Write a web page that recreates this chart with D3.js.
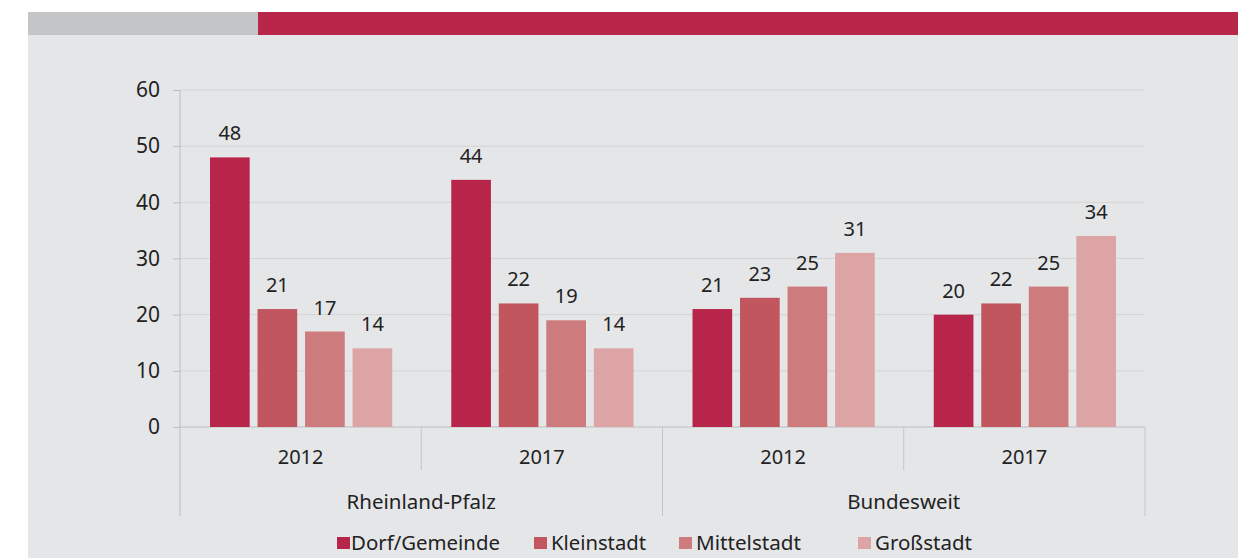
<!DOCTYPE html>
<html>
<head>
<meta charset="utf-8">
<script src="https://cdn.jsdelivr.net/npm/d3@7"></script>
<style>
  body { margin: 0; background: #ffffff; }
  text { font-family: "Noto Sans", "Open Sans", sans-serif; fill: #222; }
</style>
</head>
<body>
<div id="chart"></div>
<script>
// Data
const regions = ["Rheinland-Pfalz", "Bundesweit"];
const years = ["2012", "2017"];
const series = ["Dorf/Gemeinde", "Kleinstadt", "Mittelstadt", "Großstadt"];
const colors = ["#b7264a", "#c1565e", "#cd7b7c", "#dca4a4"];
// values per region/year group, in series order
const rlp2012 = [48, 21, 17, 14];
const rlp2017 = [44, 22, 19, 14];
const bund2012 = [21, 23, 25, 31];
const bund2017 = [20, 22, 25, 34];
const yTicks = [0, 10, 20, 30, 40, 50, 60];

const groups = [
    { region: regions[0], year: years[0], values: rlp2012 },
    { region: regions[0], year: years[1], values: rlp2017 },
    { region: regions[1], year: years[0], values: bund2012 },
    { region: regions[1], year: years[1], values: bund2017 }
];
groups.forEach((g, i) => g.key = i);

const W = 1246, H = 558;
const svg = d3.select("#chart").append("svg")
    .attr("width", W).attr("height", H);

// panel background and top bar
svg.append("rect").attr("x", 28).attr("y", 12).attr("width", 1210).attr("height", H - 12).attr("fill", "#e5e6e8");
svg.append("rect").attr("x", 28).attr("y", 12).attr("width", 230).attr("height", 23).attr("fill", "#c4c5c7");
svg.append("rect").attr("x", 258).attr("y", 12).attr("width", 980).attr("height", 23).attr("fill", "#b8274a");

const plotLeft = 180, plotRight = 1145, plotTop = 90, plotBottom = 427;

const x0 = d3.scaleBand().domain(groups.map(g => g.key)).range([plotLeft, plotRight]).paddingInner(0).paddingOuter(0);
const x1 = d3.scaleBand().domain(series).range([30, x0.bandwidth() - 29]).paddingInner(0.165).paddingOuter(0);
const y = d3.scaleLinear().domain([0, 60]).range([plotBottom, plotTop]);

// gridlines
svg.append("g").selectAll("line").data(yTicks.filter(d => d > 0)).join("line")
    .attr("x1", plotLeft).attr("x2", plotRight)
    .attr("y1", d => y(d)).attr("y2", d => y(d))
    .attr("stroke", "#d3d4d6").attr("stroke-width", 1);

// y axis
const yAxis = svg.append("g").attr("transform", `translate(${plotLeft},0)`)
    .call(d3.axisLeft(y).tickValues(yTicks).tickSize(7).tickPadding(13));
yAxis.select(".domain").remove();
yAxis.selectAll(".tick line").attr("stroke", "#bcbdbf");
yAxis.selectAll("text").style("font-size", "21px").attr("fill", "#222");
svg.append("line").attr("x1", plotLeft).attr("x2", plotLeft).attr("y1", plotTop).attr("y2", 516)
    .attr("stroke", "#bcbdbf");

// baseline
svg.append("line").attr("x1", plotLeft).attr("x2", plotRight).attr("y1", plotBottom).attr("y2", plotBottom)
    .attr("stroke", "#bcbdbf");

// bars
const g = svg.append("g").selectAll("g").data(groups).join("g")
    .attr("transform", d => `translate(${x0(d.key)},0)`);
g.selectAll("rect").data(d => d.values.map((v, i) => ({ s: series[i], v, i }))).join("rect")
    .attr("x", d => x1(d.s))
    .attr("y", d => y(d.v))
    .attr("width", x1.bandwidth())
    .attr("height", d => y(0) - y(d.v))
    .attr("fill", d => colors[d.i]);
g.selectAll("text").data(d => d.values.map((v, i) => ({ s: series[i], v, i }))).join("text")
    .attr("x", d => x1(d.s) + x1.bandwidth() / 2)
    .attr("y", d => y(d.v) - 17)
    .attr("text-anchor", "middle")
    .style("font-size", "20px")
    .text(d => d.v);

// category separators
const seps = [0, 1, 2, 3, 4].map(i => ({ x: plotLeft + i * x0.bandwidth(), outer: i % 2 === 0 }));
svg.append("g").selectAll("line").data(seps.filter(d => d.x > plotLeft)).join("line")
    .attr("x1", d => d.x).attr("x2", d => d.x)
    .attr("y1", plotBottom).attr("y2", d => d.outer ? 516 : 470)
    .attr("stroke", "#c4c5c7");

// year labels
svg.append("g").selectAll("text").data(groups).join("text")
    .attr("x", d => x0(d.key) + x0.bandwidth() / 2)
    .attr("y", 464)
    .attr("text-anchor", "middle")
    .style("font-size", "20px")
    .text(d => d.year);

// region labels
svg.append("g").selectAll("text").data(regions).join("text")
    .attr("x", (d, i) => plotLeft + x0.bandwidth() * (2 * i + 1))
    .attr("y", 509)
    .attr("text-anchor", "middle")
    .style("font-size", "20.5px")
    .text(d => d);

// legend (slightly condensed text in the original)
const legendX = [337, 534, 679, 858];
const legendW = [149, 95, 105, 97];
const lg = svg.append("g").selectAll("g").data(series).join("g")
    .attr("transform", (d, i) => `translate(${legendX[i]},0)`);
lg.append("rect").attr("x", 0).attr("y", 537).attr("width", 13).attr("height", 12)
    .attr("fill", (d, i) => colors[i]);
lg.append("text").attr("x", (d, i) => i === 0 ? 14 : 17).attr("y", 550)
    .style("font-size", "20px")
    .attr("textLength", (d, i) => legendW[i])
    .attr("lengthAdjust", "spacingAndGlyphs")
    .text(d => d);
</script>
</body>
</html>
